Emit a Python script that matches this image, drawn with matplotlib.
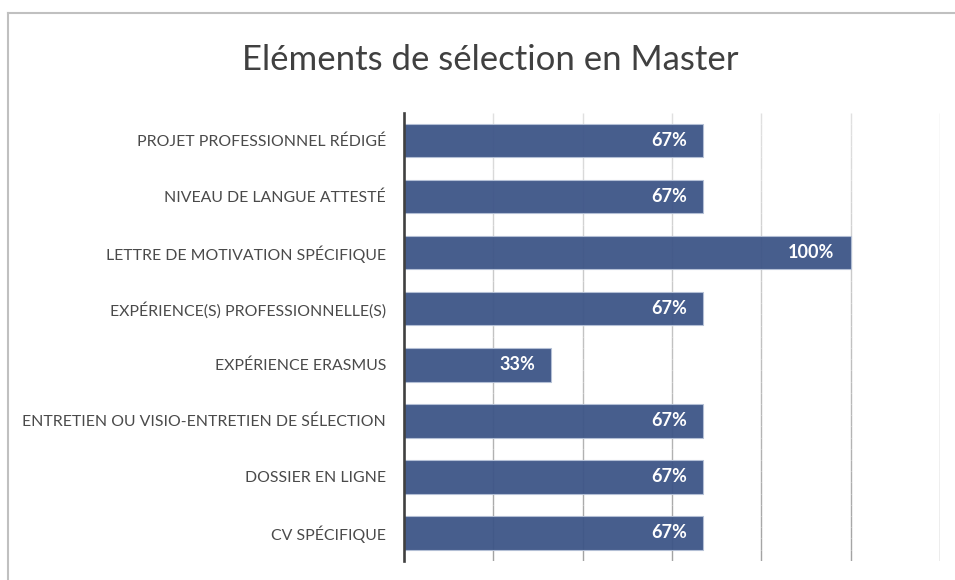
"""Horizontal bar chart: share of Master programmes using each selection element."""
import matplotlib
matplotlib.use("Agg")
import matplotlib.pyplot as plt  # noqa: E402
import numpy as np  # noqa: E402
from matplotlib.collections import LineCollection  # noqa: E402
from matplotlib.lines import Line2D  # noqa: E402

categories = [
    "CV SPÉCIFIQUE",
    "DOSSIER EN LIGNE",
    "ENTRETIEN OU VISIO-ENTRETIEN DE SÉLECTION",
    "EXPÉRIENCE ERASMUS",
    "EXPÉRIENCE(S) PROFESSIONNELLE(S)",
    "LETTRE DE MOTIVATION SPÉCIFIQUE",
    "NIVEAU DE LANGUE ATTESTÉ",
    "PROJET PROFESSIONNEL RÉDIGÉ",
]
shares = [0.67, 0.67, 0.67, 0.33, 0.67, 1.00, 0.67, 0.67]
title = "Eléments de sélection en Master"

BAR = "#3d5587"
TXT = "#4a4a4a"
plt.rcParams["font.family"] = ["Lato", "DejaVu Sans"]

W, H = 955, 580
fig = plt.figure(figsize=(W / 100, H / 100), dpi=100)
ax = fig.add_axes([404 / W, 1 - 560.7 / H, (940 - 404) / W, (560.7 - 112.7) / H])

y = np.arange(len(categories))
ax.set_xlim(0, 1.2)
ax.set_ylim(-0.5, len(categories) - 0.5)

# vertical gridlines fading from light at the top to darker at the bottom
n = 40
yy = np.linspace(-0.5, len(categories) - 0.5, n + 1)
for gx in np.arange(0.2, 1.21, 0.2):
    segs = [[(gx, yy[i]), (gx, yy[i + 1])] for i in range(n)]
    shade = np.linspace(0.64, 0.88, n)
    cols = [(s, s, s) for s in shade]
    ax.add_collection(LineCollection(segs, colors=cols, linewidths=1.0, zorder=1))

ax.barh(y, shares, height=0.6, color=BAR, alpha=0.95, edgecolor="#b4c0d6",
        linewidth=0.8, zorder=2)
for yi, v in zip(y, shares):
    ax.text(v - 0.036, yi, f"{v:.0%}", ha="right", va="center", color="white",
            fontsize=13, fontweight="bold", zorder=3)

ax.set_yticks(y)
ax.set_yticklabels(categories, fontsize=11.4, color=TXT)
ax.tick_params(axis="y", length=0, pad=13)
ax.set_xticks([])
for sp in ("top", "right", "bottom"):
    ax.spines[sp].set_visible(False)
ax.spines["left"].set_color("#404040")
ax.spines["left"].set_linewidth(1.9)
ax.spines["left"].set_zorder(4)

fig.text(490 / W, 1 - 60 / H, title, ha="center", va="center", fontsize=25,
         color="#404040")

# chart area frame: only its top and left edges fall inside the image
fx, fy = 8 / W, 1 - 13 / H
for xs, ys in (([fx, 1.0], [fy, fy]), ([fx, fx], [0.0, fy])):
    fig.add_artist(Line2D(xs, ys, transform=fig.transFigure, color="#c0c0c0",
                          linewidth=1.5))

fig.savefig("out.png", dpi=100)
